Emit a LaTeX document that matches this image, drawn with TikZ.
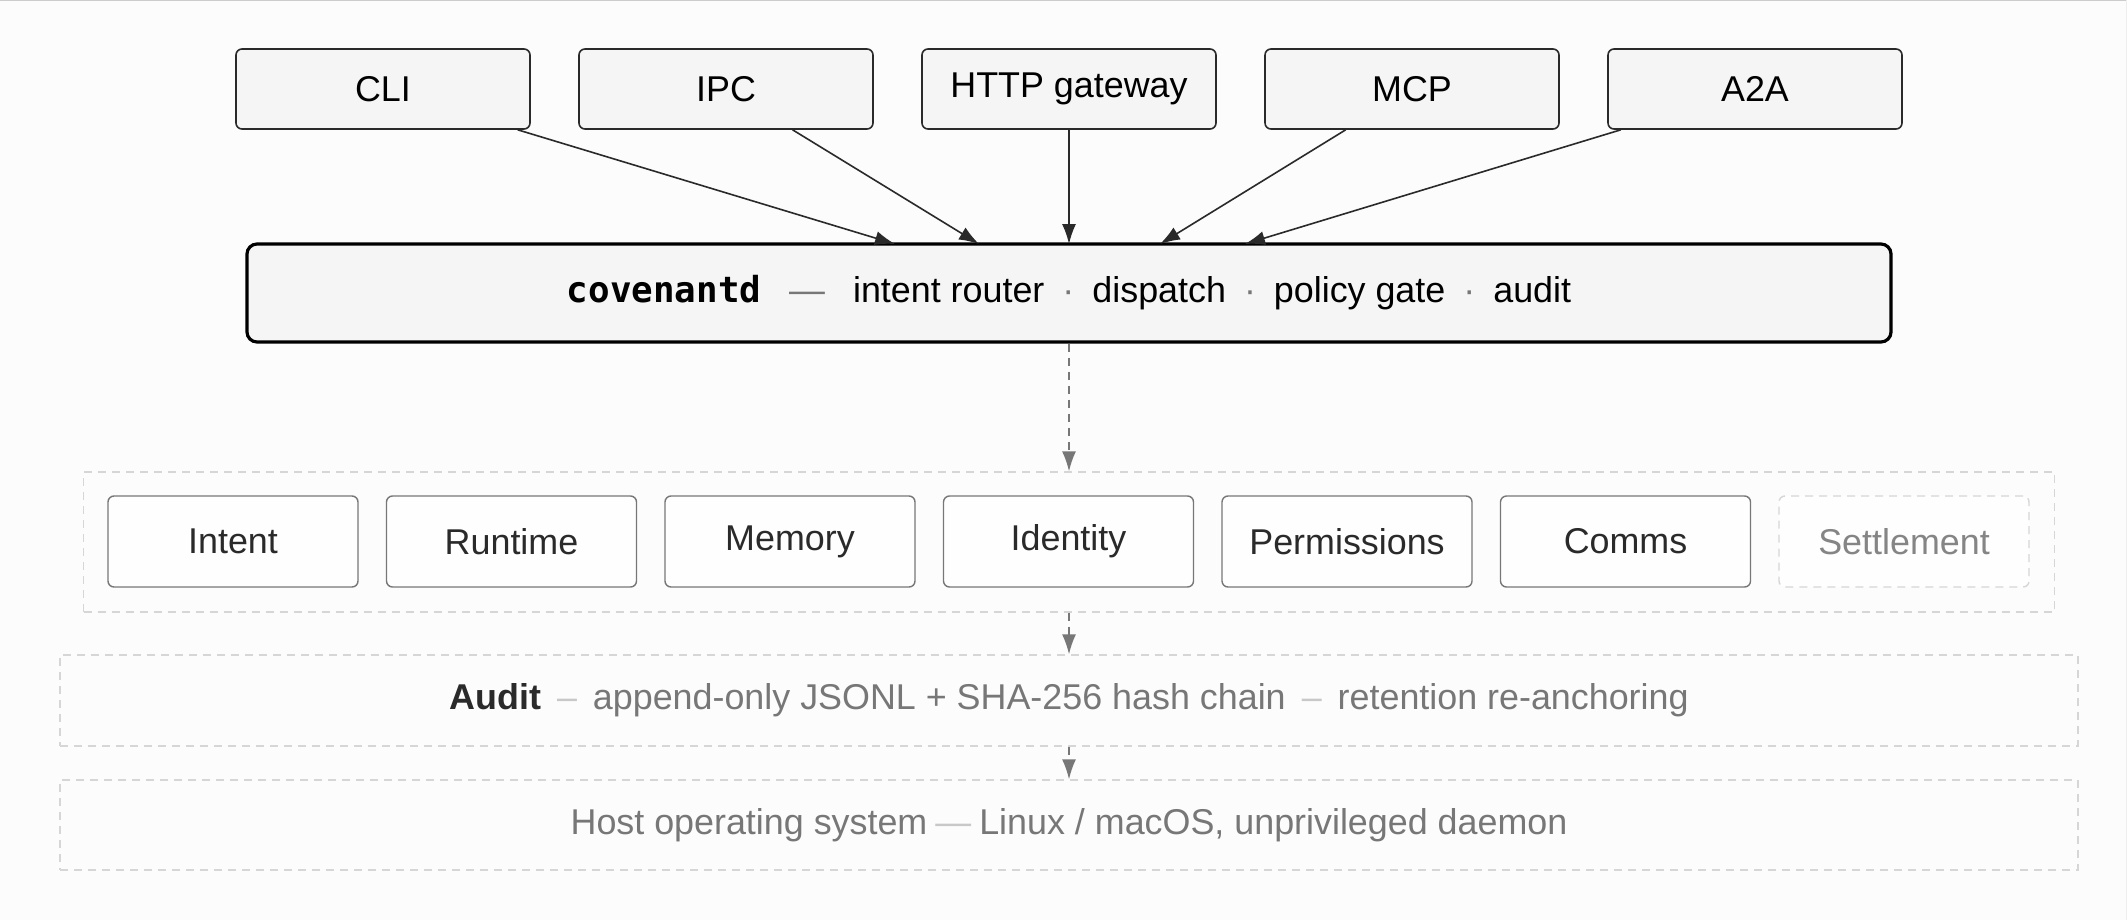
\documentclass[tikz,border=0pt]{standalone}
\usepackage{fontspec}
\setmainfont{Liberation Sans}
\newfontfamily\codefont{DejaVu Sans Mono}
\usepackage{tikz}
\usetikzlibrary{arrows.meta,shapes}
\definecolor{paper}{HTML}{FCFCFC}
\definecolor{boxfill}{HTML}{F5F5F5}
\definecolor{ink}{HTML}{2A2A2A}
\definecolor{muted}{HTML}{777777}
\definecolor{faint}{HTML}{D6D6D6}
\definecolor{sepgray}{HTML}{C8C8C8}

\begin{document}
\begin{tikzpicture}[font=\fontsize{18}{21.5}\selectfont,
  >={Latex[length=10bp,width=7bp]},
  src/.style={draw=ink,fill=boxfill,rounded corners=3bp,line width=0.8bp,minimum width=147bp,minimum height=40bp,text=black},
  core/.style={draw=black,fill=boxfill,rounded corners=5bp,line width=1.6bp,minimum width=822bp,minimum height=49bp,text=black},
  module/.style={draw=muted,fill=white!60!paper,rounded corners=3bp,line width=0.7bp,minimum width=125bp,minimum height=45.5bp,text=ink},
  planned/.style={module,draw=faint,dash pattern=on 4bp off 3bp,text=muted!90},
  layer/.style={draw=faint,dash pattern=on 4bp off 3bp,line width=0.7bp,text=muted},
  feed/.style={->,draw=ink,line width=0.8bp},
  down/.style={->,draw=muted,line width=0.8bp,dash pattern=on 4bp off 3bp}]

\useasboundingbox (0,0) rectangle (1063.5bp,-460bp);
\fill [paper] (0,0) rectangle (1063.5bp,-460bp);
\draw [black!20,line width=1bp] (0,0) -- (1063.5bp,0);
\draw [black!7,line width=1bp] (1063.5bp,0) -- (1063.5bp,-460bp);

\node (cli) at (191.5bp,-44.5bp)[src] {CLI};
\node (ipc) at (363bp,-44.5bp)[src] {IPC};
\node (http) at (534.5bp,-44.5bp)[src] {HTTP gateway};
\node (mcp) at (706bp,-44.5bp)[src] {MCP};
\node (a2a) at (877.5bp,-44.5bp)[src] {A2A};

\node (core) at (534.5bp,-146.5bp)[core] {{\codefont\bfseries covenantd}\hspace{14bp}{\color{muted}---}\hspace{14bp}intent router\hspace{9bp}{\color{muted}·}\hspace{9bp}dispatch\hspace{9bp}{\color{muted}·}\hspace{9bp}policy gate\hspace{9bp}{\color{muted}·}\hspace{9bp}audit};

\coordinate (in1) at (447.5bp,-122bp);
\coordinate (in2) at (489.5bp,-122bp);
\coordinate (in3) at (534.5bp,-122bp);
\coordinate (in4) at (580bp,-122bp);
\coordinate (in5) at (622.5bp,-122bp);
\draw [feed] (cli) -- (in1);
\draw [feed] (ipc) -- (in2);
\draw [feed] (http) -- (in3);
\draw [feed] (mcp) -- (in4);
\draw [feed] (a2a) -- (in5);

\node (mods) at (534.5bp,-271bp)[layer,minimum width=985.5bp,minimum height=70bp] {};
\node (intent) at (116.5bp,-270.75bp)[module] {Intent};
\node (runtime) at (255.75bp,-270.75bp)[module] {Runtime};
\node (memory) at (395bp,-270.75bp)[module] {Memory};
\node (identity) at (534.25bp,-270.75bp)[module] {Identity};
\node (perms) at (673.5bp,-270.75bp)[module] {Permissions};
\node (comms) at (812.75bp,-270.75bp)[module] {Comms};
\node (settle) at (952bp,-270.75bp)[planned] {Settlement};

\node (audit) at (534.5bp,-350.25bp)[layer,minimum width=1009bp,minimum height=45.5bp] {{\color{ink}\bfseries Audit}\hspace{8bp}{\color{sepgray}--}\hspace{8bp}append-only JSONL + SHA-256 hash chain\hspace{8bp}{\color{sepgray}--}\hspace{8bp}retention re-anchoring};
\node (host) at (534.5bp,-412.5bp)[layer,minimum width=1009bp,minimum height=45bp] {Host operating system\hspace{4bp}{\color{sepgray}---}\hspace{4bp}Linux / macOS, unprivileged daemon};

\draw [down] (core) -- (mods);
\draw [down] (mods) -- (audit);
\draw [down] (audit) -- (host);
\end{tikzpicture}
\end{document}
